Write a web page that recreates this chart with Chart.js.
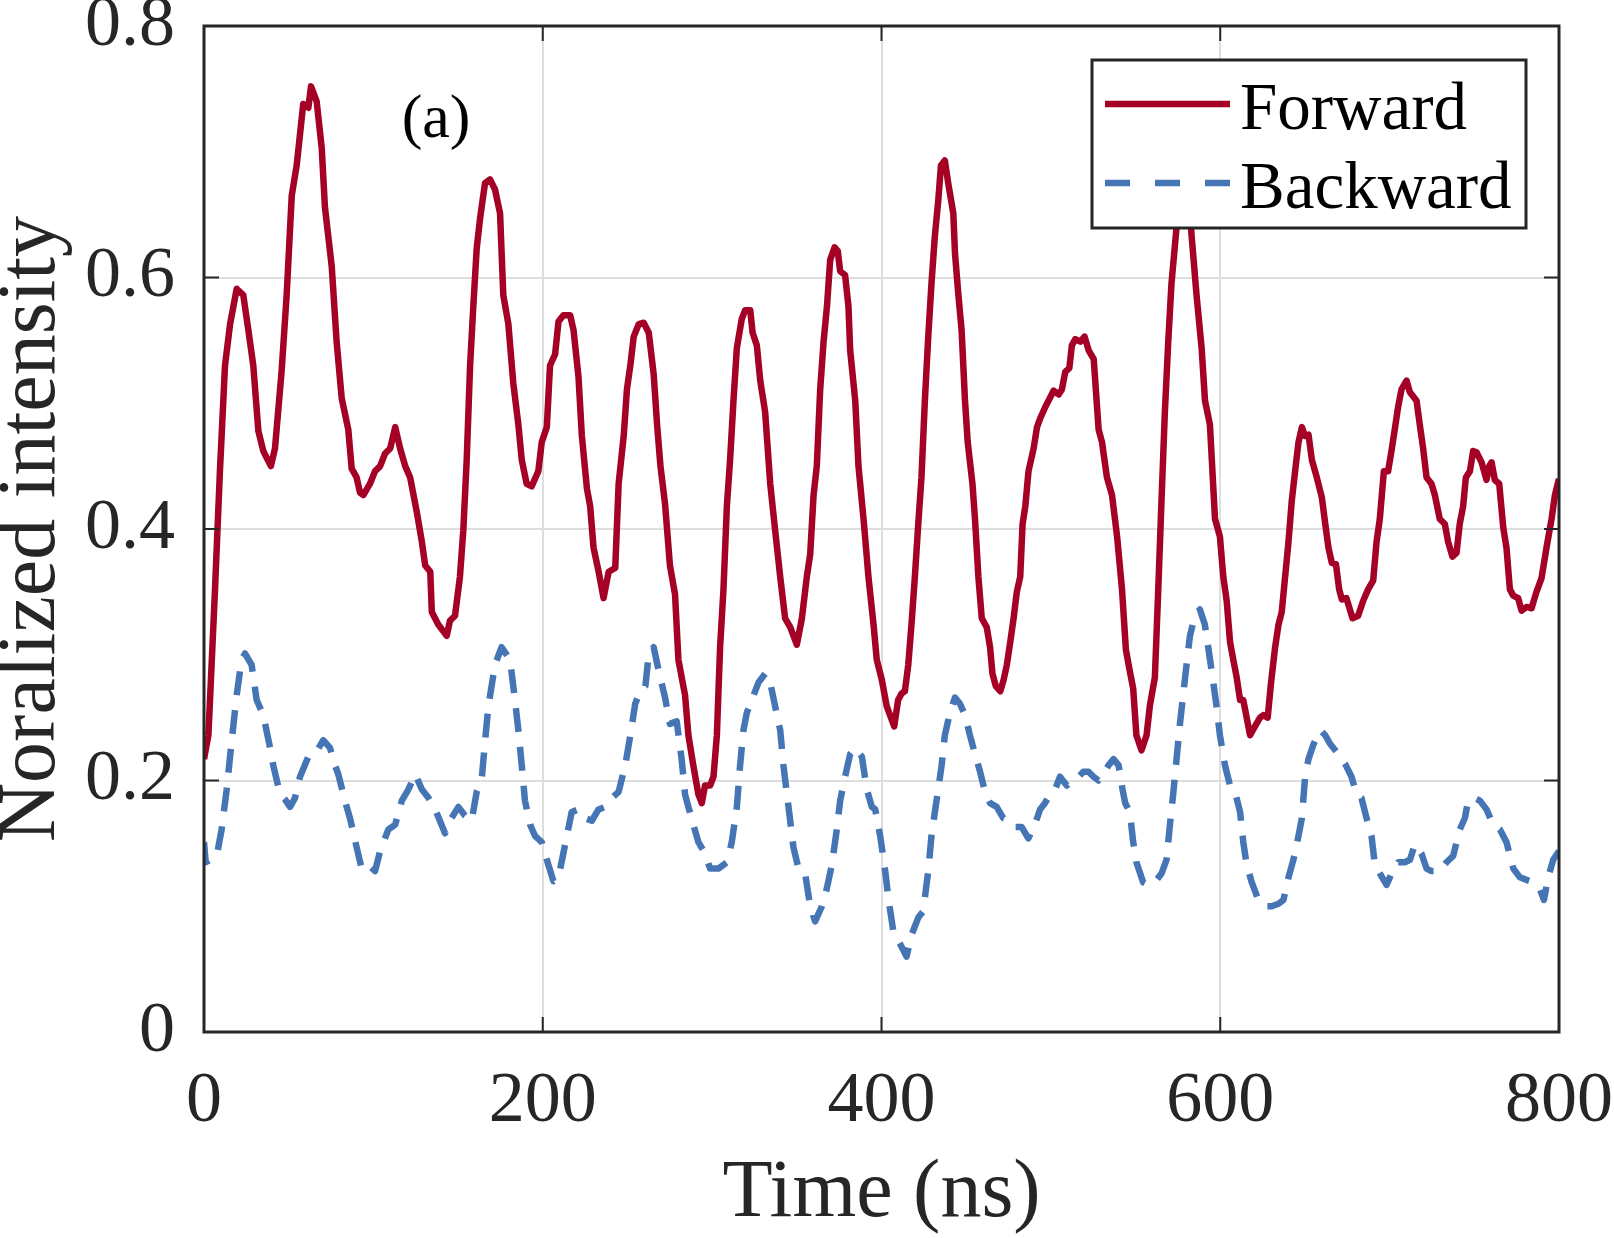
<!DOCTYPE html>
<html>
<head>
<meta charset="utf-8">
<title>Forward / Backward intensity</title>
<script src="https://cdn.jsdelivr.net/npm/chart.js@4.4.1/dist/chart.umd.min.js"></script>
<style>
    html, body { margin: 0; padding: 0; background: #ffffff; }
    #wrap { width: 1614px; height: 1238px; }
</style>
</head>
<body>
<div id="wrap"><canvas id="chart" width="1614" height="1238"></canvas></div>
<script>
// Forward (solid) trace: time in ns, normalized intensity
var fwdTime = [0, 2.6, 6.5, 9.4, 12.4, 15.4, 19.3, 23.2, 26.2, 29.1, 32.1, 35, 39.5, 41.9, 45.8, 48.8, 51.8, 54.7, 58.6, 61.6,
    63.2, 66.5, 69.5, 71.4, 75.4, 78.3, 81.3, 85.2, 87.2, 90.1, 92.1, 94.1, 98, 101, 104, 106.9, 109.9, 112.9, 115.8, 118.8,
    121.7, 125.7, 128.6, 130.6, 133.6, 134.5, 138.3, 143.3, 145.2, 148.2, 151.1, 153.1, 155.1, 157.1, 159, 161, 163, 165.9, 168.9, 171.8,
    174.8, 176.7, 179.7, 182.6, 185.6, 187.6, 190.5, 193.5, 197.4, 199.4, 202.4, 204.3, 207.3, 209.3, 212.2, 216.2, 218.2, 221.1, 223.1, 226.1,
    228, 230, 233, 235.9, 238.9, 242.8, 244.8, 247.8, 249.7, 251.7, 253.7, 256.7, 259.6, 262.6, 265.5, 267.5, 269.5, 272.2, 275.1, 278.1,
    280.1, 284, 286, 288.9, 291.9, 293.9, 295.8, 298.8, 300.8, 302.8, 304.7, 306.7, 308.7, 310.6, 312.6, 314.6, 317.5, 319.5, 322.5, 323.9,
    326.4, 328.4, 331.3, 334.3, 337.2, 340.2, 343.1, 346.1, 350, 353, 355.9, 357.9, 359.9, 361.8, 363.8, 365.8, 367.8, 369.7, 372.3, 374.2,
    375.6, 378.5, 380.5, 381.5, 384.5, 386.4, 389.4, 392.3, 395.3, 397.2, 400.2, 403.1, 407.5, 409.8, 411.8, 413.8, 415.8, 417.7, 419.7, 421.7,
    423.6, 425.6, 427.6, 429.5, 431.5, 433.5, 435.1, 437.4, 439.4, 442.4, 443.4, 445.4, 447.3, 449.3, 450.9, 453.7, 455.2, 457.2, 459.2, 462.1,
    464.1, 465.5, 467.5, 470.1, 472.1, 474, 476, 478, 479.9, 481.9, 483.3, 484.9, 486.8, 489.8, 491.8, 493.7, 496.7, 498.6, 501.6, 504.6,
    506.5, 508.5, 510.9, 512.4, 514.4, 517.4, 519.9, 522.3, 525.3, 528.2, 530.2, 533.1, 536.1, 539.1, 542, 544.3, 546.6, 548.6, 550.5, 553.5,
    556.5, 558.4, 561.4, 563.4, 565.3, 567.3, 569.3, 571.2, 574.2, 576.5, 578.5, 580.5, 583.1, 586, 589, 591, 593.9, 596.9, 599.8, 601.8,
    603.8, 605.8, 607.7, 609.7, 611.7, 613.6, 615.6, 617.6, 620.5, 623.5, 625.5, 628, 630, 632.4, 634.4, 636.3, 638.3, 640.3, 642.2, 644.2,
    646.2, 648.2, 650.1, 652.1, 654.1, 657, 660, 662, 663.9, 665.9, 668.3, 670.2, 671.8, 674.5, 678.1, 681.4, 684.4, 687.3, 690.3, 692.3,
    694.2, 696.6, 699.1, 701.1, 703, 705, 707, 710, 711.9, 715.9, 717.8, 719.8, 721.8, 724.7, 726.7, 729.6, 732.6, 734.5, 737.1, 739.5,
    741.4, 743.4, 745, 747.4, 749.3, 751.3, 754.3, 757.2, 758.8, 760.2, 762.1, 764.7, 767.1, 769, 771, 773, 775.9, 777.9, 780.8, 783.8,
    786.7, 789.7, 792.6, 795.6, 797.6, 800];
var fwdValue = [0.217, 0.236, 0.352, 0.446, 0.53, 0.563, 0.591, 0.586, 0.558, 0.53, 0.478, 0.462, 0.45, 0.464, 0.525, 0.586, 0.665, 0.689, 0.738, 0.735,
    0.752, 0.74, 0.703, 0.656, 0.609, 0.549, 0.504, 0.479, 0.448, 0.441, 0.429, 0.427, 0.436, 0.446, 0.45, 0.46, 0.464, 0.481, 0.464, 0.45,
    0.441, 0.413, 0.39, 0.371, 0.366, 0.334, 0.324, 0.315, 0.327, 0.331, 0.362, 0.399, 0.455, 0.53, 0.577, 0.623, 0.647, 0.675, 0.678, 0.67,
    0.651, 0.586, 0.563, 0.516, 0.483, 0.455, 0.436, 0.434, 0.446, 0.469, 0.481, 0.53, 0.539, 0.565, 0.57, 0.57, 0.558, 0.521, 0.474, 0.432,
    0.418, 0.385, 0.366, 0.345, 0.366, 0.369, 0.436, 0.474, 0.511, 0.53, 0.553, 0.563, 0.564, 0.556, 0.523, 0.483, 0.45, 0.42, 0.371, 0.348,
    0.296, 0.268, 0.236, 0.212, 0.189, 0.182, 0.196, 0.196, 0.203, 0.236, 0.306, 0.352, 0.418, 0.455, 0.502, 0.544, 0.567, 0.574, 0.574, 0.556,
    0.546, 0.518, 0.493, 0.436, 0.399, 0.362, 0.329, 0.322, 0.308, 0.329, 0.362, 0.38, 0.427, 0.45, 0.511, 0.549, 0.577, 0.614, 0.624, 0.621,
    0.605, 0.602, 0.577, 0.542, 0.502, 0.45, 0.408, 0.362, 0.324, 0.296, 0.28, 0.259, 0.243, 0.264, 0.269, 0.271, 0.292, 0.324, 0.362, 0.404,
    0.441, 0.502, 0.553, 0.595, 0.633, 0.661, 0.689, 0.693, 0.675, 0.651, 0.619, 0.586, 0.558, 0.502, 0.469, 0.436, 0.408, 0.362, 0.329, 0.322,
    0.306, 0.285, 0.275, 0.271, 0.28, 0.292, 0.31, 0.329, 0.35, 0.362, 0.404, 0.418, 0.446, 0.464, 0.481, 0.488, 0.497, 0.502, 0.51, 0.507,
    0.511, 0.525, 0.528, 0.546, 0.551, 0.549, 0.553, 0.542, 0.535, 0.479, 0.469, 0.441, 0.427, 0.394, 0.352, 0.304, 0.287, 0.273, 0.236, 0.224,
    0.236, 0.259, 0.282, 0.352, 0.422, 0.493, 0.549, 0.595, 0.64, 0.685, 0.7, 0.685, 0.633, 0.586, 0.544, 0.502, 0.483, 0.408, 0.394, 0.362,
    0.343, 0.31, 0.296, 0.282, 0.264, 0.264, 0.25, 0.236, 0.243, 0.25, 0.252, 0.25, 0.278, 0.306, 0.324, 0.334, 0.362, 0.39, 0.422, 0.446,
    0.469, 0.481, 0.474, 0.475, 0.455, 0.441, 0.425, 0.404, 0.385, 0.373, 0.372, 0.352, 0.344, 0.345, 0.329, 0.331, 0.343, 0.352, 0.359, 0.39,
    0.408, 0.446, 0.446, 0.462, 0.479, 0.497, 0.511, 0.518, 0.509, 0.502, 0.483, 0.464, 0.441, 0.436, 0.427, 0.408, 0.404, 0.39, 0.378, 0.381,
    0.404, 0.418, 0.441, 0.446, 0.462, 0.461, 0.453, 0.439, 0.45, 0.453, 0.439, 0.436, 0.401, 0.385, 0.352, 0.347, 0.345, 0.335, 0.338, 0.337,
    0.35, 0.361, 0.385, 0.408, 0.427, 0.44];

// Backward (dashed) trace
var bwdTime = [0, 1, 7.5, 10.4, 13.4, 16.3, 19.3, 22.2, 24.2, 28.1, 31.1, 35, 39, 40.9, 44.9, 47.8, 50.8, 53.7, 56.7, 61.6,
    65.5, 70.4, 74.4, 77.3, 79.3, 83.2, 86.2, 90.1, 93.1, 97, 101, 104, 108.8, 112.9, 116.8, 120.7, 124.7, 128.6, 132.6, 136.5,
    142.3, 145.2, 150.2, 154.1, 158, 161, 163.9, 165.9, 167.9, 171.8, 175.7, 180.7, 183.6, 185.6, 187.6, 189.5, 192.5, 195.4, 199.4, 203.3,
    206.3, 209.3, 213.2, 217.1, 221.1, 225.1, 229, 232.9, 236.9, 240.8, 244.8, 248.7, 251.7, 254.6, 257.6, 260.6, 262.6, 265.5, 268.5, 272.2,
    275.1, 279.1, 282, 284, 286, 288.9, 291.9, 295.8, 298.8, 303.7, 308.7, 311.6, 314.6, 316.5, 318.5, 320.5, 323.4, 327.4, 331.3, 334.3,
    337.2, 340.2, 342.1, 345.1, 348, 351, 354.9, 357.9, 360.8, 364.8, 367.7, 370.7, 373.6, 375.6, 378.5, 381.5, 384.5, 388.4, 391.3, 394.3,
    396.3, 399.2, 402.2, 404.2, 407.1, 411, 414.8, 417.7, 421.7, 424.6, 427.6, 429.5, 431.5, 433.5, 435.5, 437.4, 440.4, 443.4, 446.3, 449.3,
    452.2, 455.2, 458.2, 461.1, 464.1, 468, 471.9, 475.9, 478.8, 482.8, 486.7, 490.6, 493.6, 496.5, 499.5, 502.5, 505.4, 509.4, 512.3, 516.3,
    519.2, 522.2, 525.2, 528.1, 531.1, 534, 537, 540, 542.3, 543.9, 546.6, 548.6, 550.5, 554.5, 557.5, 561.4, 565.3, 568.3, 570.3, 572.2,
    574.2, 576.2, 578.1, 580.1, 582.1, 585, 588, 590.9, 592.9, 595.9, 597.8, 599.8, 602.8, 605.8, 608.7, 611.7, 613.6, 615.6, 618.6, 622.5,
    626.5, 630.4, 634.4, 637.3, 640.3, 643.2, 646.2, 648.2, 650.1, 652.1, 655.1, 659, 662, 664.9, 667.9, 670.8, 673.8, 677.5, 680.5, 683.4,
    686.4, 689.3, 691.3, 694.3, 698.2, 701.1, 705.1, 709, 712, 714.9, 718.8, 721.8, 724.7, 729.6, 733.6, 737.5, 741.4, 744.4, 746.4, 750.3,
    753.3, 757.2, 761.1, 765.1, 769, 773, 776.9, 780.8, 784.8, 788.7, 791.1, 793.6, 796.6, 800];
var bwdValue = [0.151, 0.135, 0.14, 0.161, 0.193, 0.231, 0.268, 0.296, 0.301, 0.292, 0.264, 0.252, 0.226, 0.212, 0.189, 0.185, 0.179, 0.186, 0.203, 0.219,
    0.221, 0.232, 0.226, 0.212, 0.205, 0.184, 0.17, 0.147, 0.13, 0.133, 0.128, 0.144, 0.161, 0.165, 0.184, 0.193, 0.205, 0.193, 0.186, 0.177,
    0.158, 0.168, 0.179, 0.172, 0.168, 0.191, 0.2, 0.231, 0.259, 0.292, 0.306, 0.296, 0.264, 0.24, 0.212, 0.184, 0.165, 0.156, 0.151, 0.133,
    0.12, 0.123, 0.149, 0.175, 0.177, 0.17, 0.168, 0.177, 0.179, 0.186, 0.191, 0.212, 0.236, 0.261, 0.271, 0.275, 0.301, 0.306, 0.287, 0.266,
    0.245, 0.247, 0.217, 0.189, 0.179, 0.165, 0.151, 0.142, 0.13, 0.13, 0.135, 0.151, 0.179, 0.212, 0.24, 0.254, 0.264, 0.278, 0.285, 0.278,
    0.259, 0.24, 0.212, 0.179, 0.147, 0.13, 0.126, 0.1, 0.088, 0.1, 0.114, 0.133, 0.161, 0.184, 0.203, 0.221, 0.226, 0.219, 0.193, 0.179,
    0.177, 0.156, 0.128, 0.105, 0.079, 0.07, 0.06, 0.077, 0.091, 0.096, 0.128, 0.156, 0.175, 0.193, 0.212, 0.236, 0.254, 0.266, 0.261, 0.252,
    0.236, 0.221, 0.207, 0.191, 0.182, 0.179, 0.17, 0.168, 0.163, 0.163, 0.154, 0.165, 0.177, 0.182, 0.189, 0.193, 0.203, 0.196, 0.2, 0.203,
    0.207, 0.207, 0.203, 0.2, 0.205, 0.212, 0.217, 0.212, 0.193, 0.182, 0.175, 0.151, 0.135, 0.119, 0.117, 0.119, 0.126, 0.137, 0.165, 0.189,
    0.217, 0.245, 0.268, 0.292, 0.315, 0.331, 0.336, 0.324, 0.306, 0.278, 0.259, 0.236, 0.212, 0.196, 0.191, 0.175, 0.151, 0.133, 0.119, 0.105,
    0.1, 0.1, 0.102, 0.105, 0.123, 0.137, 0.156, 0.17, 0.203, 0.217, 0.229, 0.24, 0.236, 0.229, 0.224, 0.219, 0.213, 0.203, 0.189, 0.186,
    0.17, 0.156, 0.133, 0.126, 0.117, 0.126, 0.135, 0.135, 0.137, 0.149, 0.142, 0.13, 0.128, 0.128, 0.135, 0.14, 0.161, 0.17, 0.184, 0.186,
    0.184, 0.177, 0.165, 0.161, 0.151, 0.13, 0.123, 0.121, 0.119, 0.114, 0.105, 0.123, 0.137, 0.144];

var xTicks = [0, 200, 400, 600, 800];
var yTicks = [0, 0.2, 0.4, 0.6, 0.8];
var seriesNames = ["Forward", "Backward"];

var FONT = "'Liberation Serif', 'Times New Roman', serif";
var COLORS = {
    forward: "#a50026",
    backward: "#4575b4",
    axis: "#262626",
    grid: "#dedede"
};

function points(times, values) {
    return times.map(function (t, i) {
        return { x: t, y: values[i] };
    });
}

function fixBox(size) {
    return function (scale) {
        if (scale.isHorizontal()) {
            scale.height = size;
        } else {
            scale.width = size;
        }
        scale.paddingLeft = 0;
        scale.paddingRight = 0;
        scale.paddingTop = 0;
        scale.paddingBottom = 0;
    };
}

// axis box with inward ticks, legend box and panel label, drawn over the data
var framePlugin = {
    id: "frame",
    afterDatasetsDraw: function (chart) {
        var ctx = chart.ctx;
        var a = chart.chartArea;
        var xs = chart.scales.x;
        var ys = chart.scales.y;
        var tick = 15;

        ctx.save();
        ctx.strokeStyle = COLORS.axis;
        ctx.lineWidth = 3;
        ctx.setLineDash([]);
        ctx.strokeRect(a.left, a.top, a.right - a.left, a.bottom - a.top);

        ctx.lineWidth = 2;
        ctx.beginPath();
        xTicks.forEach(function (v) {
            var px = xs.getPixelForValue(v);
            ctx.moveTo(px, a.bottom);
            ctx.lineTo(px, a.bottom - tick);
            ctx.moveTo(px, a.top);
            ctx.lineTo(px, a.top + tick);
        });
        yTicks.forEach(function (v) {
            var py = ys.getPixelForValue(v);
            ctx.moveTo(a.left, py);
            ctx.lineTo(a.left + tick, py);
            ctx.moveTo(a.right, py);
            ctx.lineTo(a.right - tick, py);
        });
        ctx.stroke();

        // legend
        var lx = a.right - 467;
        var ly = a.top + 34;
        ctx.fillStyle = "#ffffff";
        ctx.fillRect(lx, ly, 434, 168);
        ctx.lineWidth = 3;
        ctx.strokeStyle = COLORS.axis;
        ctx.strokeRect(lx, ly, 434, 168);

        ctx.lineWidth = 6.5;
        ctx.strokeStyle = COLORS.forward;
        ctx.beginPath();
        ctx.moveTo(lx + 13, ly + 44);
        ctx.lineTo(lx + 138, ly + 44);
        ctx.stroke();

        ctx.strokeStyle = COLORS.backward;
        ctx.setLineDash([25, 25]);
        ctx.beginPath();
        ctx.moveTo(lx + 13, ly + 123);
        ctx.lineTo(lx + 138, ly + 123);
        ctx.stroke();
        ctx.setLineDash([]);

        ctx.fillStyle = "#000000";
        ctx.font = "67px " + FONT;
        ctx.textAlign = "left";
        ctx.textBaseline = "alphabetic";
        ctx.fillText(seriesNames[0], lx + 148, ly + 69);
        ctx.fillText(seriesNames[1], lx + 148, ly + 148);

        // panel label
        ctx.font = "62px " + FONT;
        ctx.textAlign = "center";
        ctx.textBaseline = "middle";
        ctx.fillText("(a)", xs.getPixelForValue(137), ys.getPixelForValue(0.7245));
        ctx.restore();
    }
};

new Chart(document.getElementById("chart").getContext("2d"), {
    type: "line",
    data: {
        datasets: [
            {
                label: seriesNames[0],
                data: points(fwdTime, fwdValue),
                borderColor: COLORS.forward,
                borderWidth: 6.5,
                borderJoinStyle: "round",
                pointRadius: 0,
                tension: 0,
                fill: false
            },
            {
                label: seriesNames[1],
                data: points(bwdTime, bwdValue),
                borderColor: COLORS.backward,
                borderWidth: 6.5,
                borderDash: [24, 15],
                borderJoinStyle: "round",
                pointRadius: 0,
                tension: 0,
                fill: false
            }
        ]
    },
    options: {
        responsive: false,
        animation: false,
        devicePixelRatio: 1,
        layout: {
            padding: { top: 26, right: 55, left: 0, bottom: 0 }
        },
        plugins: {
            legend: { display: false },
            tooltip: { enabled: false }
        },
        scales: {
            x: {
                type: "linear",
                min: 0,
                max: 800,
                afterBuildTicks: function (scale) {
                    scale.ticks = xTicks.map(function (v) { return { value: v }; });
                },
                ticks: {
                    color: COLORS.axis,
                    font: { family: FONT, size: 72, lineHeight: 1 },
                    padding: 34,
                    maxRotation: 0,
                    callback: function (value) { return String(value); }
                },
                grid: { color: COLORS.grid, lineWidth: 2, drawTicks: false },
                border: { display: false },
                title: {
                    display: true,
                    text: "Time (ns)",
                    color: COLORS.axis,
                    font: { family: FONT, size: 82, lineHeight: 1 },
                    padding: { top: 0, bottom: 3 }
                },
                afterFit: fixBox(206)
            },
            y: {
                type: "linear",
                min: 0,
                max: 0.8,
                afterBuildTicks: function (scale) {
                    scale.ticks = yTicks.map(function (v) { return { value: v }; });
                },
                ticks: {
                    color: COLORS.axis,
                    font: { family: FONT, size: 72, lineHeight: 1 },
                    padding: 29,
                    callback: function (value) {
                        return value === 0 ? "0" : value.toFixed(1);
                    }
                },
                grid: { color: COLORS.grid, lineWidth: 2, drawTicks: false },
                border: { display: false },
                title: {
                    display: true,
                    text: "Noralized intensity",
                    color: COLORS.axis,
                    font: { family: FONT, size: 82, lineHeight: 0.78 },
                    padding: 0
                },
                afterFit: fixBox(204)
            }
        }
    },
    plugins: [framePlugin]
});
</script>
</body>
</html>
